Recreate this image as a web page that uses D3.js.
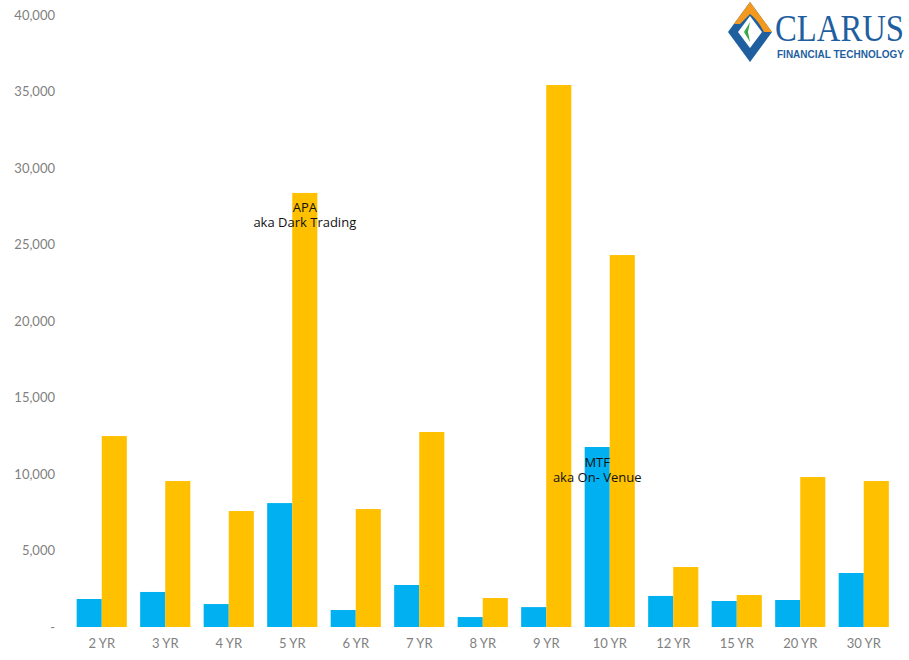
<!DOCTYPE html>
<html><head><meta charset="utf-8">
<script src="https://cdn.jsdelivr.net/npm/d3@7"></script>
<style>body{margin:0;background:#fff}svg{display:block}</style>
</head><body>
<script>
const categories = ["2 YR","3 YR","4 YR","5 YR","6 YR","7 YR","8 YR","9 YR","10 YR","12 YR","15 YR","20 YR","30 YR"];
const mtf = [1830,2290,1500,8100,1110,2745,650,1300,11765,2030,1700,1765,3530];
const apa = [12480,9540,7580,28370,7710,12745,1895,35425,24310,3920,2090,9800,9540];
const yTicks = [0,5000,10000,15000,20000,25000,30000,35000,40000];
const seriesNames = ["MTF","APA"];
const colors = ["#00B0F0","#FFC000"];

const W=909,H=660;
const svg=d3.select("body").append("svg").attr("width",W).attr("height",H);
const x=d3.scaleBand().domain(categories).range([70,895.5]).paddingInner(0.21).paddingOuter(0.105);
const x1=d3.scaleBand().domain(seriesNames).range([0,x.bandwidth()]);
const y=d3.scaleLinear().domain([0,40000]).range([627,15]);

const fmt=v=>v===0?"-":d3.format(",")(v);
const gy=svg.append("g").attr("transform","translate(55,0)")
  .call(d3.axisLeft(y).tickValues(yTicks).tickFormat(fmt).tickSize(0).tickPadding(0));
gy.select(".domain").remove();
gy.selectAll("text").attr("font-family","Lato, 'Open Sans', sans-serif").attr("font-size",13).attr("fill","#7f7f7f");

const gx=svg.append("g").attr("transform","translate(0,627)")
  .call(d3.axisBottom(x).tickSize(0).tickPadding(12));
gx.select(".domain").remove();
gx.selectAll("text").attr("font-family","Lato, 'Open Sans', sans-serif").attr("font-size",13).attr("fill","#7f7f7f");

const data=categories.map((c,i)=>({c,vals:[mtf[i],apa[i]]}));
const g=svg.append("g").selectAll("g").data(data).join("g").attr("transform",d=>`translate(${x(d.c)},0)`);
g.selectAll("rect").data(d=>d.vals.map((v,j)=>({v,s:seriesNames[j],j}))).join("rect")
  .attr("x",d=>x1(d.s)).attr("width",x1.bandwidth())
  .attr("y",d=>y(d.v)).attr("height",d=>y(0)-y(d.v)).attr("fill",d=>colors[d.j]);

// annotations
function ann(cat, ser, val, lines){
  const cx = x(cat)+x1(ser)+x1.bandwidth()/2;
  const t=svg.append("text").attr("font-family","'Open Sans', sans-serif").attr("font-size",13).attr("fill","#111").attr("text-anchor","middle");
  lines.forEach((l,i)=>t.append("tspan").attr("x",cx).attr("y",y(val)+(i*15)).text(l));
}
ann("5 YR","APA",27124,["APA","aka Dark Trading"]);
ann("10 YR","MTF",10450,["MTF","aka On- Venue"]);

// logo
const lg=svg.append("g").attr("transform","translate(728,2)");
lg.append("path").attr("d","M22,0 L44,30 L22,60 L0,30 Z").attr("fill","#1f5fa0");
lg.append("path").attr("d","M22,0 L44,30 L36,30 Q30,18 22,12 L12,22 L6,22 Z").attr("fill","#f39a1e");
lg.append("path").attr("d","M22,14 L34,30 L22,46 L10,30 Z").attr("fill","#ffffff");
lg.append("path").attr("d","M22,20 L16,30 L22,40 L20,30 Z").attr("fill","#3aa84a");
lg.append("text").attr("x",47).attr("y",39).attr("font-family","'Liberation Serif', serif").attr("font-size",38).attr("fill","#1f5fa0").attr("textLength",129).attr("lengthAdjust","spacingAndGlyphs").text("CLARUS");
lg.append("text").attr("x",49).attr("y",56).attr("font-family","'Liberation Sans', sans-serif").attr("font-weight","bold").attr("font-size",10.5).attr("fill","#1f5fa0").attr("textLength",127).attr("lengthAdjust","spacingAndGlyphs").text("FINANCIAL TECHNOLOGY");
</script>
</body></html>
